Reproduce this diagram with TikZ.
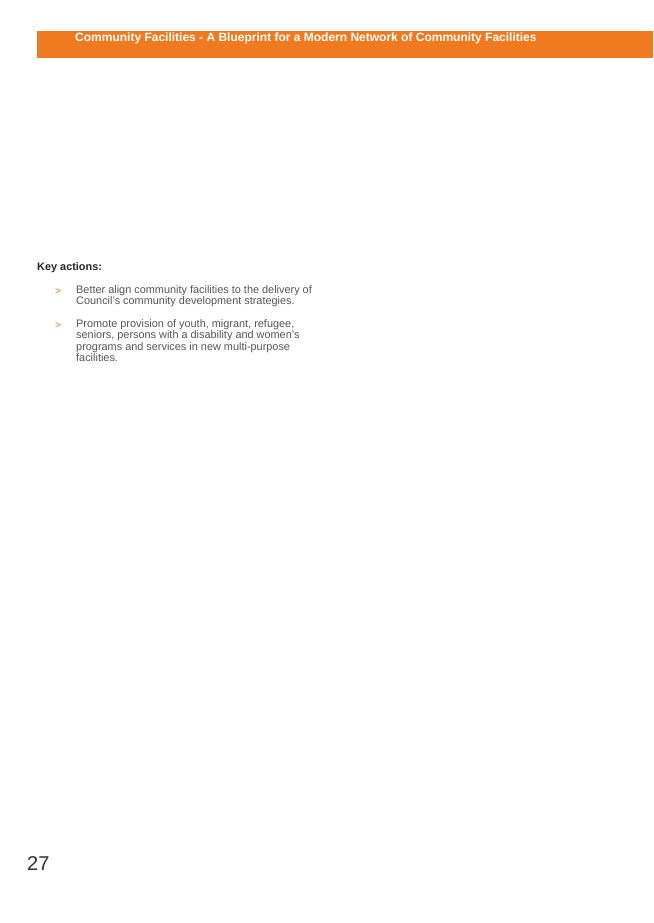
\documentclass[tikz,border=0pt]{standalone}
\usepackage{fontspec}
\setmainfont{Liberation Sans}
\definecolor{bannerorange}{HTML}{F07A20}
\definecolor{bodygray}{HTML}{555555}
\begin{document}
\begin{tikzpicture}[x=1pt,y=-1pt,
  bodytext/.style={anchor=north west,inner sep=0pt,text=bodygray,font=\fontsize{10.9}{11.6}\selectfont,align=left},
  bulletmark/.style={anchor=north west,inner sep=0pt,text=bannerorange,font=\fontsize{10}{11}\selectfont}]
\useasboundingbox (0,0) rectangle (653,923);
\fill[white] (0,0) rectangle (653,923);
\fill[bannerorange] (37,31) rectangle (653,58);
\node[anchor=west,inner sep=0pt,text=white,font=\bfseries\fontsize{12}{13}\selectfont] (title) at (75,38.5) {Community Facilities - A Blueprint for a Modern Network of Community Facilities};
\node[anchor=north west,inner sep=0pt,font=\bfseries\fontsize{10.9}{12}\selectfont,text=black!85] (key) at (37,262) {Key actions:};
\node[bulletmark] (b1) at (55,288) {>};
\node[bodytext] (t1) at (76,285) {Better align community facilities to the delivery of\\Council's community development strategies.};
\node[bulletmark] (b2) at (55,322) {>};
\node[bodytext] (t2) at (76,319) {Promote provision of youth, migrant, refugee,\\seniors, persons with a disability and women's\\programs and services in new multi-purpose\\facilities.};
\node[anchor=north west,inner sep=0pt,font=\fontsize{20}{20}\selectfont,text=black!80] (pg) at (27,856) {27};
\end{tikzpicture}
\end{document}
